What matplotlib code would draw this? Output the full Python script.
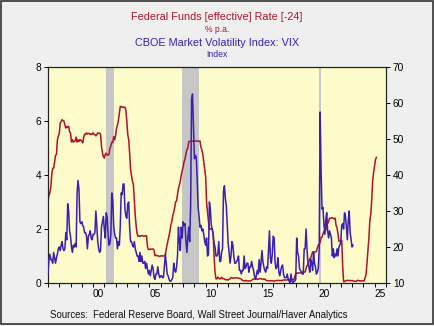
import numpy as np
import matplotlib
matplotlib.use("Agg")
from matplotlib import pyplot as plt

plt.rcParams['font.family'] = ['Liberation Sans', 'DejaVu Sans']

# Federal funds effective rate, monthly from Jan 1994 (plotted with a 24-month lead)
ff_start = 1994
ff_rate = [
    3.05, 3.25, 3.34, 3.56, 4.01, 4.25, 4.26, 4.47, 4.73, 4.76, 5.29, 5.45,
    5.53, 5.92, 5.98, 6.05, 6.01, 6.00, 5.85, 5.74, 5.80, 5.76, 5.80, 5.60,
    5.56, 5.22, 5.31, 5.22, 5.24, 5.27, 5.40, 5.22, 5.30, 5.24, 5.31, 5.29,
    5.25, 5.19, 5.39, 5.51, 5.50, 5.56, 5.52, 5.54, 5.54, 5.50, 5.52, 5.50,
    5.56, 5.51, 5.49, 5.45, 5.49, 5.56, 5.54, 5.55, 5.51, 5.07, 4.83, 4.68,
    4.63, 4.76, 4.81, 4.74, 4.74, 4.76, 4.99, 5.07, 5.22, 5.20, 5.42, 5.30,
    5.45, 5.73, 5.85, 6.02, 6.27, 6.53, 6.54, 6.50, 6.52, 6.51, 6.51, 6.40,
    5.98, 5.49, 5.31, 4.80, 4.21, 3.97, 3.77, 3.65, 3.07, 2.49, 2.09, 1.82,
    1.73, 1.74, 1.73, 1.75, 1.75, 1.75, 1.73, 1.74, 1.75, 1.75, 1.34, 1.24,
    1.24, 1.26, 1.25, 1.26, 1.26, 1.22, 1.01, 1.03, 1.01, 1.01, 1.00, 0.98,
    1.00, 1.01, 1.00, 1.00, 1.00, 1.03, 1.26, 1.43, 1.61, 1.76, 1.93, 2.16,
    2.28, 2.50, 2.63, 2.79, 3.00, 3.04, 3.26, 3.50, 3.62, 3.78, 4.00, 4.16,
    4.29, 4.49, 4.59, 4.79, 4.94, 4.99, 5.24, 5.25, 5.25, 5.25, 5.25, 5.24,
    5.25, 5.26, 5.26, 5.25, 5.25, 5.25, 5.26, 5.02, 4.94, 4.76, 4.49, 4.24,
    3.94, 2.98, 2.61, 2.28, 1.98, 2.00, 2.01, 2.00, 1.81, 0.97, 0.39, 0.16,
    0.15, 0.22, 0.18, 0.15, 0.18, 0.21, 0.16, 0.16, 0.15, 0.12, 0.12, 0.12,
    0.11, 0.13, 0.16, 0.20, 0.20, 0.18, 0.18, 0.19, 0.19, 0.19, 0.19, 0.18,
    0.17, 0.16, 0.14, 0.10, 0.09, 0.09, 0.07, 0.10, 0.08, 0.07, 0.08, 0.07,
    0.08, 0.10, 0.13, 0.14, 0.16, 0.16, 0.16, 0.13, 0.14, 0.16, 0.16, 0.16,
    0.14, 0.15, 0.14, 0.15, 0.11, 0.09, 0.09, 0.08, 0.08, 0.09, 0.08, 0.09,
    0.07, 0.07, 0.08, 0.09, 0.09, 0.10, 0.09, 0.09, 0.09, 0.09, 0.09, 0.12,
    0.11, 0.11, 0.11, 0.12, 0.12, 0.13, 0.13, 0.14, 0.14, 0.12, 0.12, 0.24,
    0.34, 0.38, 0.36, 0.37, 0.37, 0.38, 0.39, 0.40, 0.40, 0.40, 0.41, 0.54,
    0.65, 0.66, 0.79, 0.90, 0.91, 1.04, 1.15, 1.16, 1.15, 1.15, 1.16, 1.30,
    1.41, 1.42, 1.51, 1.69, 1.70, 1.82, 1.91, 1.91, 1.95, 2.19, 2.20, 2.27,
    2.40, 2.40, 2.41, 2.42, 2.39, 2.38, 2.40, 2.13, 2.04, 1.83, 1.55, 1.55,
    1.55, 1.58, 0.65, 0.05, 0.05, 0.08, 0.09, 0.10, 0.09, 0.09, 0.09, 0.09,
    0.09, 0.08, 0.07, 0.07, 0.06, 0.08, 0.10, 0.09, 0.08, 0.08, 0.08, 0.08,
    0.08, 0.08, 0.20, 0.33, 0.77, 1.21, 1.68, 2.33, 2.56, 3.08, 3.78, 4.10,
    4.33, 4.57, 4.65,
]
ff_lead_years = 2

# CBOE VIX, monthly average from Jan 1996
vix_start = 1996
vix = [
    12.5, 16.5, 18.0, 16.5, 16.5, 15.5, 18.5, 17.0, 15.5, 17.0, 18.0, 19.5,
    20.0, 19.0, 20.5, 21.5, 19.5, 19.0, 19.5, 24.0, 22.0, 32.0, 30.0, 24.5,
    23.0, 20.0, 18.5, 20.5, 20.0, 21.0, 20.0, 35.0, 38.5, 36.0, 27.0, 26.5,
    27.0, 26.0, 25.5, 24.0, 24.0, 23.0, 19.5, 23.0, 23.5, 24.5, 22.5, 22.0,
    23.5, 23.5, 24.0, 30.0, 26.0, 21.5, 19.5, 18.5, 19.0, 25.5, 27.0, 28.5,
    25.0, 22.5, 29.5, 28.5, 23.5, 20.5, 21.0, 23.5, 35.0, 33.0, 26.0, 23.5,
    22.5, 22.5, 19.5, 21.5, 20.5, 25.5, 35.0, 34.5, 37.5, 37.5, 30.5, 28.5,
    28.0, 32.0, 32.5, 25.5, 21.5, 21.5, 20.5, 20.0, 21.5, 19.5, 18.5, 17.5,
    17.5, 16.0, 18.5, 16.0, 17.5, 15.5, 15.5, 16.0, 14.0, 15.5, 14.0, 12.5,
    13.5, 12.0, 13.5, 15.0, 14.0, 11.5, 11.0, 12.5, 12.5, 14.5, 12.5, 11.5,
    12.0, 12.0, 11.5, 11.5, 14.5, 18.0, 15.5, 12.5, 12.0, 11.0, 10.5, 10.5,
    11.0, 11.5, 15.5, 13.5, 13.0, 14.5, 17.5, 25.5, 21.5, 19.0, 25.5, 22.5,
    27.0, 26.0, 26.5, 21.5, 18.5, 22.5, 25.5, 21.5, 31.5, 61.0, 62.5, 53.0,
    44.5, 45.5, 45.0, 38.5, 31.0, 28.5, 25.5, 26.0, 24.5, 25.0, 23.5, 21.5,
    20.5, 22.5, 17.5, 18.0, 32.5, 30.5, 26.0, 25.0, 23.5, 21.0, 20.0, 17.5,
    17.5, 18.0, 21.5, 16.0, 16.0, 18.5, 19.5, 35.5, 37.0, 33.5, 31.5, 26.5,
    21.0, 18.5, 15.5, 17.5, 21.5, 20.5, 17.5, 15.5, 15.5, 16.0, 16.5, 17.5,
    13.5, 13.5, 12.5, 13.5, 13.5, 17.5, 14.0, 14.5, 15.5, 15.5, 13.0, 14.5,
    14.5, 16.0, 14.5, 13.5, 12.0, 11.0, 12.0, 13.5, 12.5, 16.5, 13.0, 15.5,
    19.0, 16.0, 14.5, 13.5, 13.0, 14.5, 14.0, 19.5, 24.5, 17.0, 15.5, 18.0,
    23.0, 22.5, 15.5, 14.0, 14.5, 17.0, 13.0, 12.0, 13.5, 14.5, 15.0, 12.5,
    11.5, 11.5, 11.5, 12.5, 11.0, 10.5, 10.0, 12.5, 10.5, 10.0, 10.5, 10.5,
    11.0, 22.5, 18.5, 17.5, 14.0, 13.5, 13.0, 12.5, 12.5, 19.5, 19.5, 25.0,
    19.5, 15.5, 14.5, 13.0, 16.5, 15.5, 13.5, 18.5, 15.5, 14.5, 12.5, 13.0,
    14.0, 19.5, 57.5, 41.5, 30.5, 31.0, 26.5, 23.5, 27.5, 29.5, 24.5, 22.5,
    24.5, 23.5, 22.5, 17.5, 19.5, 17.0, 18.0, 17.5, 19.5, 17.5, 20.0, 20.5,
    21.5, 26.0, 26.5, 25.0, 29.5, 28.5, 25.5, 22.0, 27.5, 30.0, 24.0, 22.0,
    20.0, 20.5,
]

# NBER recessions (start, end as fractional years)
recessions = [(2001.17, 2001.87), (2007.92, 2009.42), (2020.08, 2020.25)]

year_labels = ['00', '05', '10', '15', '20', '25']
label_years = [2000, 2005, 2010, 2015, 2020, 2025]

red = '#b0122a'
blue = '#3a1fb4'

ff_t = ff_start + ff_lead_years + np.arange(len(ff_rate)) / 12
vix_t = vix_start + np.arange(len(vix)) / 12

fig = plt.figure(figsize=(4.34, 3.26), dpi=100, facecolor='#efefef')
ax = fig.add_axes([0.1106, 0.1319, 0.7784, 0.6626])
ax.set_facecolor('#fdfbc9')
ax2 = ax.twinx()

for s, e in recessions:
    ax.axvspan(s, e, color='#c6c6c6', lw=0, zorder=1)

ax.plot(ff_t, ff_rate, color=red, lw=1.1, zorder=3)
ax2.plot(vix_t, vix, color=blue, lw=1.1, zorder=3)

ax.set_xlim(1996, 2026)
ax.set_ylim(0, 8)
ax2.set_ylim(10, 70)
ax.set_yticks([0, 2, 4, 6, 8])
ax2.set_yticks([10, 20, 30, 40, 50, 60, 70])

# year boundary ticks, labels centred inside the year
ax.set_xticks(np.arange(1996, 2027))
ax.set_xticklabels([])
ax.set_xticks([y + 0.5 for y in label_years], minor=True)
ax.set_xticklabels(year_labels, minor=True)
ax.tick_params(axis='x', which='major', direction='out', length=3, width=0.7)
ax.tick_params(axis='x', which='minor', length=0, pad=4, labelsize=7.3)
ax.tick_params(axis='y', direction='out', length=3, width=0.7, labelsize=7.3, pad=2)
ax2.tick_params(axis='y', direction='out', length=3, width=0.7, labelsize=7.3, pad=2)

for a in (ax, ax2):
    for sp in a.spines.values():
        sp.set_linewidth(0.8)
        sp.set_color('#222222')

fig.text(0.5, 0.948, 'Federal Funds [effective] Rate [-24]', color=red,
         ha='center', va='center', fontsize=7.8)
fig.text(0.5, 0.911, '% p.a.', color=red, ha='center', va='center', fontsize=6.2)
fig.text(0.5, 0.868, 'CBOE Market Volatility Index: VIX', color=blue,
         ha='center', va='center', fontsize=7.8)
fig.text(0.5, 0.834, 'Index', color=blue, ha='center', va='center', fontsize=6.2)
fig.text(0.115, 0.035, 'Sources:  Federal Reserve Board, Wall Street Journal/Haver Analytics',
         ha='left', va='center', fontsize=6.9, color='#111111')

# outer frame
fig.patches.append(plt.Rectangle((0.003, 0.006), 0.994, 0.99, transform=fig.transFigure,
                                 fill=False, edgecolor='#333333', lw=1.2))

fig.savefig('out.png', dpi=100, facecolor=fig.get_facecolor())
